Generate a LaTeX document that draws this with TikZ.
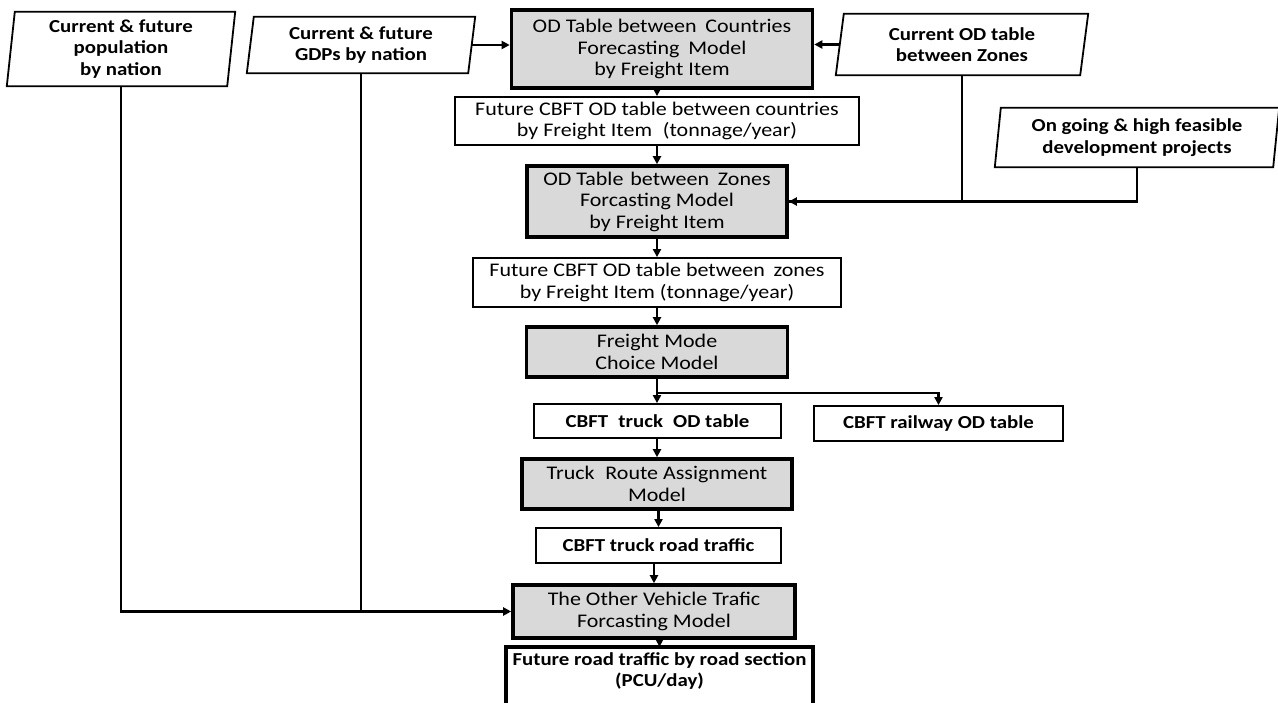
\documentclass[tikz,border=0pt]{standalone}
\usepackage{fontspec}
\setmainfont{Carlito}[FakeStretch=1.14]
\usetikzlibrary{arrows.meta,calc}
\definecolor{boxgray}{HTML}{D9D9D9}
\tikzset{
  conn/.style={line width=2.4pt},
  arr/.style={conn,-{Triangle[length=8pt,width=8pt]}},
  modelbox/.style={draw,line width=3.6pt,fill=boxgray,align=center,inner sep=0pt,
     font=\fontsize{19.3}{21.5}\selectfont},
  databox/.style={draw,line width=1.8pt,fill=white,align=center,inner sep=0pt,
     font=\fontsize{19.3}{21.5}\selectfont},
  boldbox/.style={databox,font=\fontsize{18.3}{21.5}\selectfont\bfseries},
  para/.style={align=center,inner sep=0pt,font=\fontsize{18.3}{21.5}\selectfont\bfseries},
  parashape/.style={line width=1.8pt,fill=white}
}
\newcommand{\paradraw}[2]{%
  \draw[parashape] ([xshift=#2]#1.north west) -- ([xshift=#2]#1.north east)
     -- ([xshift=-#2]#1.south east) -- ([xshift=-#2]#1.south west) -- cycle;}
\begin{document}
\begin{tikzpicture}[x=1pt,y=-1pt]
\useasboundingbox (0,0) rectangle (1278,703);

% input parallelograms
\node[para,minimum width=220,minimum height=74] (pop) at (121,49) {};
\paradraw{pop}{4pt}
\node[para] at (pop.center) {Current \& future\\population\\by nation};

\node[para,minimum width=221,minimum height=56] (gdp) at (361,45) {};
\paradraw{gdp}{3.5pt}
\node[para] at (gdp.center) {Current \& future\\GDPs by nation};

\node[para,minimum width=244,minimum height=61] (curod) at (962,44.5) {};
\paradraw{curod}{4pt}
\node[para] at (curod.center) {Current OD table\\between Zones};

\node[para,minimum width=278,minimum height=59] (ongo) at (1137,137.5) {};
\paradraw{ongo}{3pt}
\node[para] at (ongo.center) {On going \& high feasible\\development projects};

% main chain
\node[modelbox,minimum width=301,minimum height=78] (odc) at (662,49)
  {OD Table between\hspace{0.2em} Countries\\Forecasting\hspace{0.2em} Model\\by Freight Item};
\node[databox,minimum width=404,minimum height=48] (fcc) at (657,121)
  {Future CBFT OD table between countries\\by Freight Item\hspace{0.3em} (tonnage/year)};
\node[modelbox,minimum width=260,minimum height=71] (odz) at (657,201.5)
  {OD Table\hspace{0.1em} between\hspace{0.2em} Zones\\Forcasting Model\\by Freight Item};
\node[databox,minimum width=368,minimum height=49] (fcz) at (657,282.5)
  {Future CBFT OD table between\hspace{0.2em} zones\\by Freight Item (tonnage/year)};
\node[modelbox,minimum width=261,minimum height=50] (fm) at (657,352)
  {Freight Mode\\Choice Model};
\node[boldbox,minimum width=247,minimum height=34] (truckod) at (657.5,421)
  {CBFT\hspace{0.3em} truck\hspace{0.3em} OD table};
\node[boldbox,minimum width=249,minimum height=35] (rail) at (938.5,423.5)
  {CBFT railway OD table};
\node[modelbox,minimum width=270,minimum height=50] (route) at (657,484)
  {Truck\hspace{0.3em} Route Assignment\\Model};
\node[boldbox,minimum width=245,minimum height=35] (roadtr) at (658.5,545.5)
  {CBFT truck road traffic};
\node[modelbox,minimum width=282,minimum height=53] (other) at (654,611.5)
  {The Other Vehicle Trafic\\Forcasting Model};
\node[align=center,inner sep=0pt,minimum width=307,minimum height=48,
  font=\fontsize{18.3}{21.5}\selectfont\bfseries] (future) at (659.5,671)
  {Future road traffic by road section\\(PCU/day)};
\draw[line width=3.6pt] ([yshift=-40pt]future.south west) -- (future.north west)
  -- (future.north east) -- ([yshift=-40pt]future.south east);

% connectors
\draw[arr] (gdp.east) -- (gdp.east -| odc.west);
\draw[arr] (curod.west) -- (curod.west -| odc.east);
\draw[arr] (odc.south -| fcc.north) -- (fcc.north);
\draw[arr] (fcc.south) -- (odz.north);
\draw[arr] (curod.south) |- (odz.east);
\draw[conn] (ongo.south) |- (odz.east);
\draw[arr] (odz.south) -- (fcz.north);
\draw[arr] (fcz.south) -- (fm.north);
\coordinate (br) at ($(fm.south)+(0,14)$);
\draw[arr] (fm.south) -- (fm.south |- truckod.north);
\draw[arr] (br) -| (rail.north);
\draw[arr] (truckod.south -| route.north) -- (route.north);
\draw[arr] (route.south -| roadtr.north) -- (roadtr.north);
\draw[arr] (roadtr.south -| other.north) -- (other.north);
\draw[arr] (pop.south) |- (other.west);
\draw[conn] (gdp.south) -- (gdp.south |- other.west);
\draw[arr] (other.south -| future.north) -- (future.north);
\end{tikzpicture}
\end{document}
